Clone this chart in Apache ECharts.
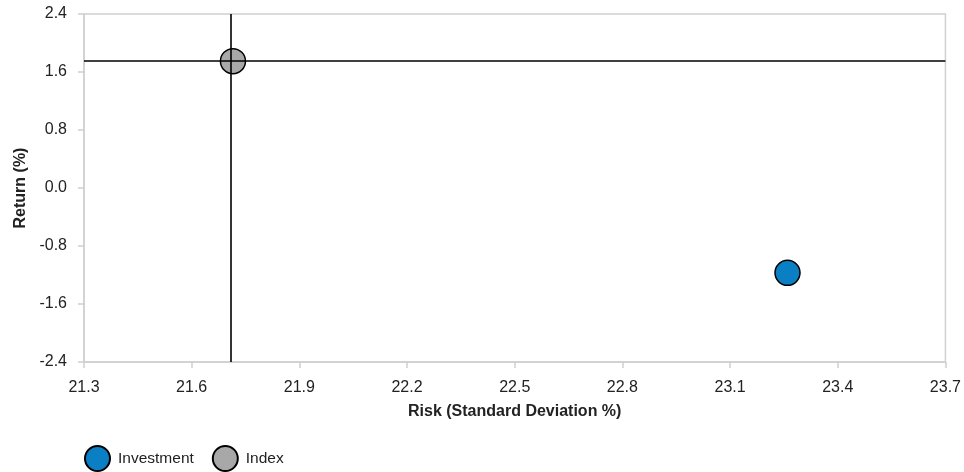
<!DOCTYPE html>
<html><head><meta charset="utf-8">
<script src="https://cdn.jsdelivr.net/npm/echarts@6/dist/echarts.min.js"></script>
<style>html,body{margin:0;padding:0;background:#fff}#c{width:964px;height:472px}</style>
</head><body><div id="c"></div>
<script>
const seriesNames = ["Investment", "Index"];
const riskValues = [23.26, 21.715];
const returnValues = [-1.17, 1.75];
const seriesColors = ["#0a7fc4", "#a8a8a8"];
const xTicks = {min: 21.3, max: 23.7, interval: 0.3};
const yTicks = {min: -2.4, max: 2.4, interval: 0.8};

const font = "Liberation Sans, Arial, sans-serif";
const chart = echarts.init(document.getElementById('c'));
const series = seriesNames.map((n, i) => ({
  name: n, type: 'scatter', symbol: 'circle', symbolSize: 25, z: 2,
  data: [[riskValues[i], returnValues[i]]],
  itemStyle: {color: seriesColors[i], borderColor: '#000', borderWidth: 1.5, opacity: 1}
}));
series.push({
  name: 'cross', type: 'scatter', data: [], z: 5, silent: true,
  markLine: {
    silent: true, symbol: ['none', 'none'], label: {show: false},
    lineStyle: {color: '#000', width: 1.6, type: 'solid'},
    emphasis: {disabled: true},
    data: [{xAxis: riskValues[1]}, {yAxis: returnValues[1]}]
  }
});
chart.setOption({
  animation: false,
  grid: {left: 84, right: 18, top: 14, bottom: 110, show: true, borderColor: '#d0d0d0', borderWidth: 1.5},
  legend: {
    data: seriesNames, left: 79, top: 440, icon: 'circle', itemWidth: 25, itemHeight: 25, itemGap: 18,
    textStyle: {fontFamily: font, fontSize: 15.5, color: '#222', padding: [0, 0, 0, 3]}
  },
  xAxis: {
    type: 'value', min: xTicks.min, max: xTicks.max, interval: xTicks.interval,
    name: 'Risk (Standard Deviation %)', nameLocation: 'middle', nameGap: 42,
    nameTextStyle: {fontFamily: font, fontSize: 16, fontWeight: 'bold', color: '#222'},
    axisLine: {show: true, onZero: false, lineStyle: {color: '#d0d0d0', width: 1.5}},
    axisTick: {show: true, length: 6, lineStyle: {color: '#d0d0d0', width: 1.5}},
    splitLine: {show: false},
    axisLabel: {fontFamily: font, fontSize: 16, color: '#222', margin: 18, formatter: v => v.toFixed(1)}
  },
  yAxis: {
    type: 'value', min: yTicks.min, max: yTicks.max, interval: yTicks.interval,
    name: 'Return (%)', nameLocation: 'middle', nameGap: 53, nameRotate: 90,
    nameTextStyle: {fontFamily: font, fontSize: 16, fontWeight: 'bold', color: '#222'},
    axisLine: {show: true, onZero: false, lineStyle: {color: '#d0d0d0', width: 1.5}},
    axisTick: {show: true, length: 6, lineStyle: {color: '#d0d0d0', width: 1.5}},
    splitLine: {show: false},
    axisLabel: {fontFamily: font, fontSize: 16, color: '#222', margin: 17, formatter: v => v.toFixed(1)}
  },
  series: series
});
</script></body></html>
